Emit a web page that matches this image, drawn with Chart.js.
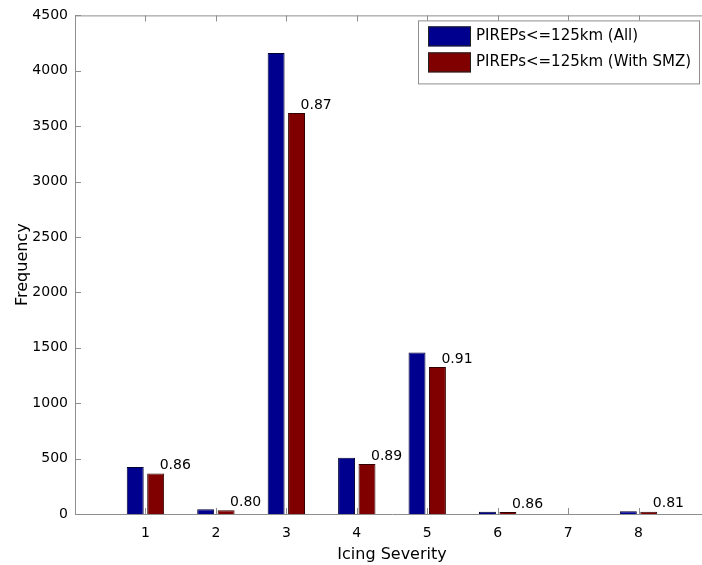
<!DOCTYPE html>
<html>
<head>
<meta charset="utf-8">
<script src="https://cdn.jsdelivr.net/npm/chart.js"></script>
<style>
html, body { margin: 0; padding: 0; background: #fff; overflow: hidden; }
canvas { display: block; }
</style>
</head>
<body>
<canvas id="myChart" width="720" height="565"></canvas>
<script>
// data
var severity = [1, 2, 3, 4, 5, 6, 7, 8];
var allPireps = [425, 42, 4160, 507, 1458, 20, 0, 25];
var smzPireps = [365, 34, 3620, 451, 1327, 17, 0, 20];
var ratioLabels = ['0.86', '0.80', '0.87', '0.89', '0.91', '0.86', '', '0.81'];
var seriesNames = ['PIREPs<=125km (All)', 'PIREPs<=125km (With SMZ)'];
var yTicks = [0, 500, 1000, 1500, 2000, 2500, 3000, 3500, 4000, 4500];

var barColors = ['#00008f', '#800000'];
var axisColor = '#8e8e8e';
var textColor = '#000';
var fontName = '"DejaVu Sans", sans-serif';

toPoints = function (values) {
    return severity.map(function (s, i) { return {x: s, y: values[i]}; });
}

// inward ticks, top frame line, ratio labels and the legend box
var extras = {
    id: 'extras',
    afterDatasetsDraw: function (chart) {
        var ctx = chart.ctx, a = chart.chartArea;
        var xs = chart.scales.x, ys = chart.scales.y;
        ctx.save();
        ctx.strokeStyle = axisColor;
        ctx.lineWidth = 1;
        ctx.beginPath();
        ctx.moveTo(a.left, a.top + 0.5);
        ctx.lineTo(a.right, a.top + 0.5);
        severity.forEach(function (v) {
            var px = Math.round(xs.getPixelForValue(v)) + 0.5;
            ctx.moveTo(px, a.bottom);
            ctx.lineTo(px, a.bottom - 6);
            ctx.moveTo(px, a.top);
            ctx.lineTo(px, a.top + 6);
        });
        yTicks.forEach(function (v) {
            var py = Math.round(ys.getPixelForValue(v)) + 0.5;
            ctx.moveTo(a.left, py);
            ctx.lineTo(a.left + 6, py);
        });
        ctx.stroke();

        // ratio labels next to the red bars
        var meta = chart.getDatasetMeta(1);
        ctx.fillStyle = textColor;
        ctx.font = '14px ' + fontName;
        ctx.textAlign = 'left';
        ctx.textBaseline = 'bottom';
        meta.data.forEach(function (bar, i) {
            if (ratioLabels[i]) ctx.fillText(ratioLabels[i], bar.x + 4, bar.y - 1);
        });

        // legend
        var lx = 418, ly = a.top + 5, lw = a.right - 10 - lx, lh = 63;
        ctx.fillStyle = '#fff';
        ctx.fillRect(lx, ly, lw, lh);
        ctx.strokeStyle = axisColor;
        ctx.strokeRect(lx + 0.5, ly + 0.5, lw, lh);
        ctx.font = '15px ' + fontName;
        ctx.textBaseline = 'middle';
        chart.data.datasets.forEach(function (ds, i) {
            var sy = ly + 6 + i * 26;
            ctx.fillStyle = ds.backgroundColor;
            ctx.fillRect(lx + 10, sy, 43, 20);
            ctx.strokeStyle = '#222';
            ctx.strokeRect(lx + 10.5, sy + 0.5, 42, 19);
            ctx.fillStyle = textColor;
            ctx.fillText(ds.label, lx + 58, sy + 10);
        });
        ctx.restore();
    }
};

new Chart('myChart', {
    type: 'bar',
    data: {
        datasets: [{
            label: seriesNames[0],
            data: toPoints(allPireps),
            backgroundColor: barColors[0],
            borderColor: '#000030',
            borderWidth: 1,
            categoryPercentage: 0.58,
            barPercentage: 0.83
        }, {
            label: seriesNames[1],
            data: toPoints(smzPireps),
            backgroundColor: barColors[1],
            borderColor: '#300000',
            borderWidth: 1,
            categoryPercentage: 0.58,
            barPercentage: 0.83
        }]
    },
    options: {
        responsive: false,
        animation: false,
        layout: {padding: {top: 14, right: 9, left: 0, bottom: 0}},
        plugins: {
            legend: {display: false},
            tooltip: {enabled: false}
        },
        scales: {
            x: {
                type: 'linear',
                min: 0,
                max: 9,
                offset: false,
                grid: {display: false, offset: false, drawTicks: false},
                border: {display: true, color: axisColor},
                ticks: {
                    stepSize: 1,
                    autoSkip: false,
                    padding: 11,
                    color: textColor,
                    font: {family: fontName, size: 14},
                    callback: function (v) { return (v >= 1 && v <= 8) ? String(v) : ''; }
                },
                title: {
                    display: true,
                    text: 'Icing Severity',
                    color: textColor,
                    font: {family: fontName, size: 16},
                    padding: {top: 0, bottom: 1}
                },
                afterFit: function (scale) { scale.height = 51; }
            },
            y: {
                min: 0,
                max: 4500,
                grid: {display: false, drawTicks: false},
                border: {display: true, color: axisColor},
                ticks: {
                    stepSize: 500,
                    padding: 7,
                    color: textColor,
                    font: {family: fontName, size: 14},
                    callback: function (v) { return String(v); }
                },
                title: {
                    display: true,
                    text: 'Frequency',
                    color: textColor,
                    font: {family: fontName, size: 16},
                    padding: {top: 13, bottom: 0}
                },
                afterFit: function (scale) { scale.width = 75; }
            }
        }
    },
    plugins: [extras]
});
</script>
</body>
</html>
